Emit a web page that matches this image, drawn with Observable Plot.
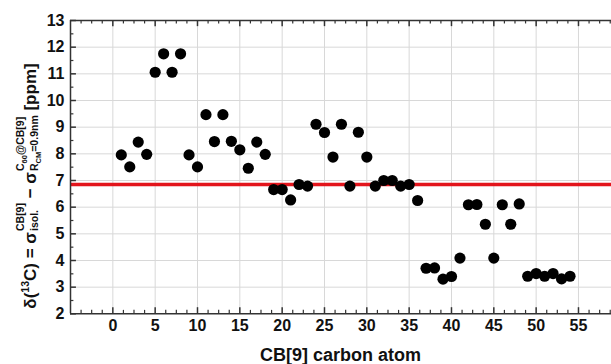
<!DOCTYPE html>
<html><head><meta charset="utf-8">
<script src="https://cdn.jsdelivr.net/npm/d3@7"></script>
<script src="https://cdn.jsdelivr.net/npm/@observablehq/plot@0.6"></script>
<style>body{margin:0;background:#fff} svg{display:block}</style>
</head><body><div id="chart"></div>
<script>
// Data
const atoms = [1,2,3,4,5,6,7,8,9,10,11,12,13,14,15,16,17,18,19,20,21,22,23,24,25,26,27,28,29,30,31,32,33,34,35,36,37,38,39,40,41,42,43,44,45,46,47,48,49,50,51,52,53,54];
const shifts = [7.96,7.51,8.44,7.98,11.06,11.75,11.06,11.75,7.96,7.51,9.47,8.46,9.47,8.47,8.15,7.46,8.44,7.98,6.66,6.66,6.27,6.85,6.79,9.11,8.80,7.88,9.11,6.79,8.81,7.88,6.79,7.00,7.00,6.79,6.85,6.25,3.71,3.72,3.30,3.40,4.09,6.09,6.10,5.36,4.09,6.09,5.36,6.12,3.41,3.51,3.41,3.51,3.31,3.41];
const referenceValue = [6.85];
const xTicks = [0,5,10,15,20,25,30,35,40,45,50,55];
const yTicks = [2,3,4,5,6,7,8,9,10,11,12,13];
const xDomain = [-5, 58.9];
const yDomain = [2, 13];

const points = atoms.map((a, i) => ({atom: a, shift: shifts[i]}));
const xMinor = d3.range(-5, 59, 1.25).filter(v => Math.abs(v % 5) > 1e-9);
const yMinor = d3.range(2.5, 13, 1);
const xGrid = xTicks;
const yGrid = yTicks.filter(v => v > 2 && v < 13);

const axisColor = "#333";
const font = "'Liberation Sans', Arial, sans-serif";

const plot = Plot.plot({
  width: 611, height: 364,
  marginLeft: 70, marginTop: 20, marginRight: 0, marginBottom: 50.67,
  x: {domain: xDomain, label: null},
  y: {domain: yDomain, label: null},
  style: {fontFamily: font, fontWeight: "bold", fontSize: "16px", color: "#111", background: "#fff"},
  marks: [
    Plot.ruleX(xGrid, {x: d => d, y1: 2, y2: 13, stroke: "#d8d8d8", strokeWidth: 1}),
    Plot.ruleY(yGrid, {y: d => d, x1: -5, x2: 58.9, stroke: "#d8d8d8", strokeWidth: 1}),
    Plot.ruleY(referenceValue, {y: d => d, x1: -5, x2: 58.9, stroke: "#e3151c", strokeWidth: 3.5}),
    Plot.dot(points, {x: "atom", y: "shift", r: 5.6, fill: "#000", stroke: "none"}),
    // frame
    Plot.ruleX([-5], {x: d => d, y1: 2, y2: 13, stroke: axisColor, strokeWidth: 1.5}),
    Plot.ruleY([2, 13], {y: d => d, x1: -5, x2: 58.9, stroke: axisColor, strokeWidth: 1.5}),
    // inward ticks: bottom & top
    Plot.ruleX(xTicks, {x: d => d, y1: 2, y2: 2.23, stroke: axisColor, strokeWidth: 1.5}),
    Plot.ruleX(xMinor, {x: d => d, y1: 2, y2: 2.13, stroke: axisColor, strokeWidth: 1.2}),
    Plot.ruleX(xTicks, {x: d => d, y1: 13, y2: 12.77, stroke: axisColor, strokeWidth: 1.5}),
    Plot.ruleX(xMinor, {x: d => d, y1: 13, y2: 12.87, stroke: axisColor, strokeWidth: 1.2}),
    // inward ticks: left
    Plot.ruleY(yTicks, {y: d => d, x1: -5, x2: -4.3, stroke: axisColor, strokeWidth: 1.5}),
    Plot.ruleY(yMinor, {y: d => d, x1: -5, x2: -4.6, stroke: axisColor, strokeWidth: 1.2}),
    Plot.axisX(xTicks, {anchor: "bottom", tickSize: 0, tickPadding: 6, label: null, fill: "#111"}),
    Plot.axisY(yTicks, {anchor: "left", tickSize: 0, tickPadding: 6, label: null, fill: "#111"})
  ]
});
document.getElementById("chart").append(plot);

const svg = d3.select(plot);
// x label
svg.append("text").attr("x", 340.5).attr("y", 361).attr("text-anchor", "middle")
  .attr("font-family", font).attr("font-weight", "bold").attr("font-size", 18).attr("fill", "#111")
  .text("CB[9] carbon atom");

// y label with super/subscripts
const outer = svg.append("g").attr("transform", "translate(36,186) rotate(-90)")
  .attr("font-family", font).attr("font-weight", "bold").attr("fill", "#111");
const inner = outer.append("g");
function drawRun(parts, x0, baseDy) {
  let x = x0;
  for (const [t, size, dy] of parts) {
    const el = inner.append("text").attr("x", x).attr("y", baseDy + dy)
      .attr("font-size", size).attr("text-anchor", "start").style("white-space", "pre").text(t);
    x += el.node().getComputedTextLength();
  }
  return x - x0;
}
const M = 17, S = 10.5, SS = 7.5;
let cur = 0;
cur += drawRun([["δ(", M, 0], ["13", S, -7], ["C) = σ", M, 0]], cur, 0);
{
  const w1 = drawRun([["CB[9]", S, 0]], cur + 1, -12.5);
  const w2 = drawRun([["isol.", S, 0]], cur + 1, 2);
  cur += Math.max(w1, w2) + 1;
}
cur += drawRun([[" − σ", M, 0]], cur, 0);
{
  const w1 = drawRun([["C", S, 0], ["60", SS, 3], ["@CB[9]", S, 0]], cur + 1, -12.5);
  const w2 = drawRun([["R", S, 0], ["CM", SS, 3], ["=0.9nm", S, 0]], cur + 1, 2);
  cur += Math.max(w1, w2) + 1;
}
cur += drawRun([[" [ppm]", M, 0]], cur, 0);
inner.attr("transform", `translate(${-cur / 2},0)`);
</script>
</body></html>
